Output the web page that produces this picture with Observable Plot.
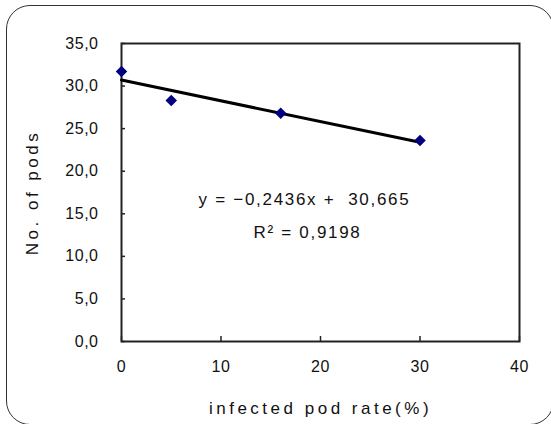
<!DOCTYPE html>
<html>
<head>
<meta charset="utf-8">
<script src="https://cdn.jsdelivr.net/npm/d3@7"></script>
<script src="https://cdn.jsdelivr.net/npm/@observablehq/plot@0.6"></script>
<style>
  html, body { margin: 0; padding: 0; background: #fff; }
  #wrap { position: relative; width: 551px; height: 424px; overflow: hidden; }
  #border { position: absolute; left: 6px; top: 5px; width: 548px; height: 420px;
            border: 1.5px solid #333; border-radius: 24px; box-sizing: border-box; pointer-events: none; }
</style>
</head>
<body>
<div id="wrap"><div id="border"></div></div>
<script>
const infectedRate = [0, 5, 16, 30];
const podCount = [31.7, 28.3, 26.8, 23.6];
const yTicks = [0, 5, 10, 15, 20, 25, 30, 35];
const xTicks = [0, 10, 20, 30, 40];
const equationText = "y = \u22120,2436x +  30,665";
const r2Text = "R\u00B2 = 0,9198";
const xLabel = "infected pod rate(%)";
const yLabel = "No. of pods";

const data = infectedRate.map((x, i) => ({x, y: podCount[i]}));
const fmt = d => d.toFixed(1).replace(".", ",");

const W = 551, H = 424;
const mL = 121, mR = 32, mT = 43, mB = 83;
const plotW = W - mL - mR, plotH = H - mT - mB;

const chart = Plot.plot({
  width: W,
  height: H,
  marginLeft: mL,
  marginRight: mR,
  marginTop: mT,
  marginBottom: mB,
  style: {fontFamily: "'Liberation Sans', Arial, sans-serif", fontSize: "16px", color: "#111", background: "transparent"},
  x: {domain: [0, 40]},
  y: {domain: [0, 35]},
  marks: [
    Plot.axisY({ticks: yTicks, tickFormat: fmt, tickSize: 0, tickPadding: 23, label: null, fontSize: 16}),
    Plot.axisX({ticks: xTicks, tickSize: 0, tickPadding: 19, label: null, fontSize: 16}),
    Plot.axisY({ticks: [], tickSize: 0, label: yLabel, labelAnchor: "center", labelOffset: 96, labelArrow: "none", fontSize: 17}),
    Plot.axisX({ticks: [], tickSize: 0, label: xLabel, labelAnchor: "center", labelOffset: 72, labelArrow: "none", fontSize: 17}),
    Plot.tickY(yTicks, {y: d => d, insetRight: plotW - 4, stroke: "#222", strokeWidth: 1.5}),
    Plot.tickX(xTicks, {x: d => d, insetTop: plotH - 5, stroke: "#222", strokeWidth: 1.5}),
    Plot.frame({stroke: "#222", strokeWidth: 2}),
    Plot.linearRegressionY(data, {x: "x", y: "y", ci: 0, stroke: "#000", strokeWidth: 3}),
    Plot.dot(data, {x: "x", y: "y", symbol: "diamond2", r: 5.2, fill: "#000080", stroke: "none"}),
    Plot.text([equationText], {frameAnchor: "middle", dx: -16, dy: 7, fontSize: 17, fill: "#111"}),
    Plot.text([r2Text], {frameAnchor: "middle", dx: -13, dy: 40, fontSize: 17, fill: "#111"})
  ]
});

d3.select(chart).selectAll("text").attr("letter-spacing", "0.5px");
d3.select(chart).selectAll('[aria-label="x-axis label"] text, [aria-label="y-axis label"] text').attr("letter-spacing", "3.5px");
d3.select(chart).selectAll('[aria-label="text"] text').attr("letter-spacing", "1.7px");
document.getElementById("wrap").prepend(chart);
</script>
</body>
</html>
